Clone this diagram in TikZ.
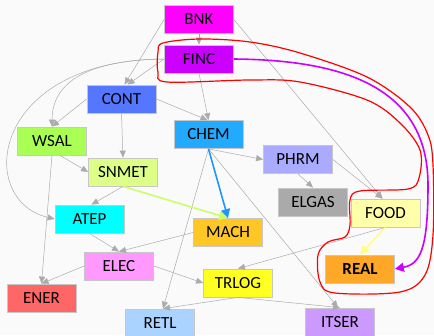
\documentclass[tikz,border=0pt]{standalone}
\usepackage{fontspec}
\setmainfont{Carlito}
\usepackage{tikz}
\usetikzlibrary{arrows.meta}
\definecolor{bnkcol}{HTML}{FF00FF}
\definecolor{finccol}{HTML}{CC00FF}
\definecolor{contcol}{HTML}{5577FF}
\definecolor{wsalcol}{HTML}{AAFF55}
\definecolor{chemcol}{HTML}{22AAFF}
\definecolor{snmetcol}{HTML}{DDFF88}
\definecolor{phrmcol}{HTML}{AAAAFF}
\definecolor{elgascol}{HTML}{AAAAAA}
\definecolor{foodcol}{HTML}{FFFFAA}
\definecolor{atepcol}{HTML}{00FFFF}
\definecolor{machcol}{HTML}{FFC726}
\definecolor{eleccol}{HTML}{FF99FF}
\definecolor{enercol}{HTML}{FF6666}
\definecolor{trlogcol}{HTML}{FFFF22}
\definecolor{realcol}{HTML}{FFA726}
\definecolor{retlcol}{HTML}{AAD4FF}
\definecolor{itsercol}{HTML}{CC99FF}
\definecolor{bluearrow}{HTML}{1E96FF}
\definecolor{greenarrow}{HTML}{CCFF66}
\definecolor{yellowarrow}{HTML}{FFFF88}
\tikzset{
    sector-box/.style = {draw=black!22, line width=0.8pt, rectangle, minimum width=69pt, minimum height=28pt, inner sep=0pt, font=\fontsize{17}{20}\selectfont},
    flow-line/.style = {draw=black!33, line width=0.5pt, -{Triangle[length=7pt,width=6pt]}},
    key-line/.style = {line width=1.6pt, -{Triangle[length=9pt,width=9pt]}},
    lasso-line/.style = {draw=red, line width=1.2pt},
}

\begin{document}
\begin{tikzpicture}[x=1pt,y=-1pt]
\fill[black!2] (0,0) rectangle (434,335);
\useasboundingbox (0,0) rectangle (434,335);

\node[sector-box, fill=bnkcol] (bnk) at (199,19.5) {BNK};
\node[sector-box, fill=finccol] (finc) at (199,59) {FINC};
\node[sector-box, fill=contcol] (cont) at (121.5,99) {CONT};
\node[sector-box, fill=wsalcol] (wsal) at (52,141) {WSAL};
\node[sector-box, fill=chemcol] (chem) at (208.5,134.5) {CHEM};
\node[sector-box, fill=snmetcol] (snmet) at (123,172) {SNMET};
\node[sector-box, fill=phrmcol] (phrm) at (298,159.5) {PHRM};
\node[sector-box, fill=elgascol] (elgas) at (313,202) {ELGAS};
\node[sector-box, fill=foodcol] (food) at (385.5,213) {FOOD};
\node[sector-box, fill=atepcol] (atep) at (89.5,219) {ATEP};
\node[sector-box, fill=machcol] (mach) at (228,232.5) {MACH};
\node[sector-box, fill=eleccol] (elec) at (119,266) {ELEC};
\node[sector-box, fill=enercol] (ener) at (41.5,298) {ENER};
\node[sector-box, fill=trlogcol] (trlog) at (238,283) {TRLOG};
\node[sector-box, fill=realcol, font=\fontsize{17}{20}\selectfont\bfseries] (real) at (360,269) {REAL};
\node[sector-box, fill=retlcol] (retl) at (160,323) {RETL};
\node[sector-box, fill=itsercol] (itser) at (340,322) {ITSER};

\draw[flow-line] (bnk) -- (finc);
\draw[flow-line] (bnk.west) -- ([xshift=3pt]cont.north);
\draw[flow-line] (bnk.east) -- ([xshift=-3pt]food.north);
\draw[flow-line] (finc.west) -- ([xshift=6pt]cont.north);
\draw[flow-line] (finc.west) .. controls (75,60) and (52,90) .. (wsal.north);
\draw[flow-line] (finc.west) .. controls (-10,60) and (-25,200) .. (atep.west);
\draw[flow-line] (finc.south) -- (chem.north);
\draw[flow-line] (cont.west) -- (wsal.north);
\draw[flow-line] (cont.south) -- (snmet.north);
\draw[flow-line] (cont.east) -- ([xshift=-1pt]chem.north);
\draw[flow-line] ([xshift=8pt]wsal.south) -- (snmet.west);
\draw[flow-line] (wsal.south) -- (ener.north);
\draw[flow-line] (snmet.south) -- ([xshift=2pt]atep.north);
\draw[flow-line] (chem.south) -- (phrm.west);
\draw[flow-line] (chem.south) -- ([xshift=3pt]retl.north);
\draw[flow-line] (chem.south) -- ([xshift=-2pt]itser.north);
\draw[flow-line] (phrm.south) -- (elgas.north);
\draw[flow-line] (phrm.east) -- ([xshift=-3pt]food.north);
\draw[flow-line] (food.south) -- (trlog.north);
\draw[flow-line] (atep.south) -- (elec.north);
\draw[flow-line] (mach.west) -- (elec.north);
\draw[flow-line] (elec.west) -- (ener.north);
\draw[flow-line] (elec.east) -- (trlog.west);
\draw[flow-line] (trlog.south) -- ([xshift=3pt]retl.north);
\draw[flow-line] (trlog.south) -- (itser.north);

\draw[key-line, greenarrow] (snmet.south) -- (mach.north);
\draw[key-line, bluearrow] (chem.south) -- (mach.north);
\draw[key-line, yellowarrow] (food.south) -- (real.north);
\draw[key-line, finccol] (finc.east) .. controls (340,60) and (428,85) .. (428,185)
    .. controls (428,250) and (420,264) .. (real.east);

\draw[lasso-line] plot[smooth cycle, tension=0.55] coordinates {
    (163,43) (200,39) (250,42) (300,53) (367,77) (410,107) (428,135) (433,165)
    (433,235) (425,275) (400,292) (335,293) (320,282) (318,255) (328,242)
    (345,237) (350,225) (350,200) (360,191) (408,189) (419,178) (420,150)
    (400,123) (367,100) (300,82) (250,80) (167,82) (158,72) (158,52)};
\end{tikzpicture}
\end{document}
